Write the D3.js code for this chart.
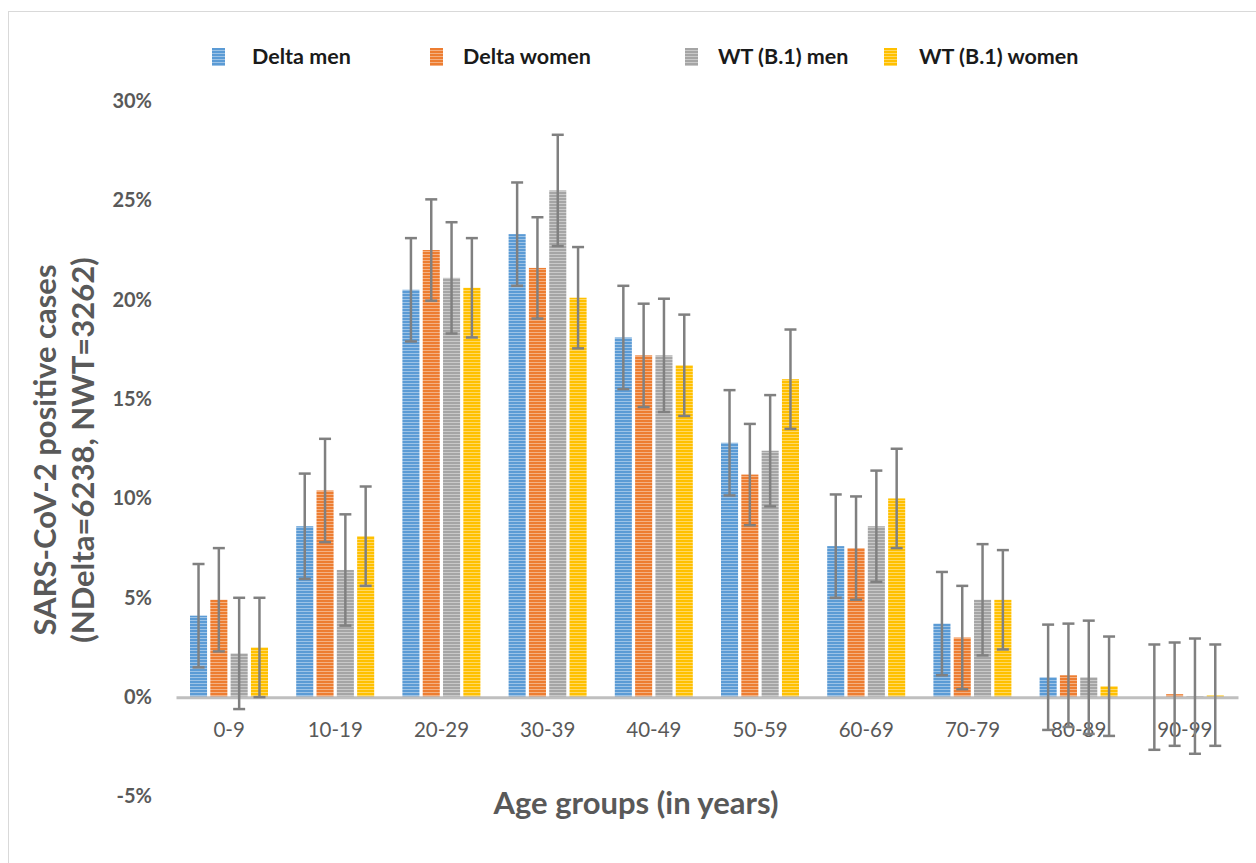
<!DOCTYPE html>
<html>
<head>
<meta charset="utf-8">
<script src="https://cdn.jsdelivr.net/npm/d3@7"></script>
<style>
  html, body { margin: 0; padding: 0; background: #fff; }
  svg { display: block; }
</style>
</head>
<body>
<svg id="chart" width="1256" height="863"></svg>
<script>
const categories = ["0-9","10-19","20-29","30-39","40-49","50-59","60-69","70-79","80-89","90-99"];
const seriesNames = ["Delta men","Delta women","WT (B.1) men","WT (B.1) women"];
const deltaMen   = [4.1, 8.6, 20.5, 23.3, 18.1, 12.8, 7.6, 3.7, 1.0, 0.0];
const deltaWomen = [4.9, 10.4, 22.5, 21.6, 17.2, 11.2, 7.5, 3.0, 1.1, 0.15];
const wtMen      = [2.2, 6.4, 21.1, 25.5, 17.2, 12.4, 8.6, 4.9, 1.0, 0.05];
const wtWomen    = [2.5, 8.1, 20.6, 20.1, 16.7, 16.0, 10.0, 4.9, 0.55, 0.1];
const deltaMenErr   = [2.6, 2.65, 2.6, 2.6, 2.6, 2.65, 2.6, 2.6, 2.65, 2.65];
const deltaWomenErr = [2.6, 2.6, 2.55, 2.55, 2.6, 2.55, 2.6, 2.6, 2.6, 2.6];
const wtMenErr      = [2.8, 2.8, 2.8, 2.8, 2.85, 2.8, 2.8, 2.8, 2.85, 2.9];
const wtWomenErr    = [2.5, 2.5, 2.5, 2.55, 2.55, 2.5, 2.5, 2.5, 2.5, 2.55];
const yTicks = [-5, 0, 5, 10, 15, 20, 25, 30];
const colors = ["#5B9BD5", "#ED7D31", "#A5A5A5", "#FFC000"];

const values = [deltaMen, deltaWomen, wtMen, wtWomen];
const errors = [deltaMenErr, deltaWomenErr, wtMenErr, wtWomenErr];

const svg = d3.select("#chart");
const font = "Lato, 'Open Sans', sans-serif";

// frame
svg.append("rect").attr("x", 8.5).attr("y", 11.5).attr("width", 1300).attr("height", 900)
  .attr("fill", "none").attr("stroke", "#d9d9d9").attr("stroke-width", 1);

// stripe patterns
const defs = svg.append("defs");
colors.forEach((c, i) => {
  const p = defs.append("pattern").attr("id", "stripe" + i)
    .attr("patternUnits", "userSpaceOnUse").attr("width", 4).attr("height", 3);
  p.append("rect").attr("width", 4).attr("height", 3).attr("fill", c);
  p.append("rect").attr("y", 2).attr("width", 4).attr("height", 1).attr("fill", "#ffffff").attr("opacity", 0.4);
});

const y = d3.scaleLinear().domain([-5, 30]).range([796.5, 101]);
const x0 = d3.scaleBand().domain(categories).range([176, 1238]).padding(0);
const x1 = d3.scaleBand().domain(d3.range(4)).range([14, 92]).paddingInner(0.16).paddingOuter(0);

// y tick labels
const yAxis = d3.axisLeft(y).tickValues(yTicks).tickFormat(d => d + "%").tickSize(0).tickPadding(0);
const gy = svg.append("g").attr("transform", "translate(152,0)").call(yAxis);
gy.select(".domain").remove();
gy.selectAll("text").attr("font-family", font).attr("font-size", 20).attr("font-weight", "bold")
  .attr("fill", "#595959");

// bars
categories.forEach((cat, ci) => {
  const g = svg.append("g").attr("transform", `translate(${x0(cat)},0)`);
  values.forEach((arr, si) => {
    const v = arr[ci];
    g.append("rect")
      .attr("x", x1(si)).attr("width", x1.bandwidth())
      .attr("y", y(Math.max(v, 0))).attr("height", Math.abs(y(v) - y(0)))
      .attr("fill", `url(#stripe${si})`);
  });
});

// axis line
const xAxis = d3.axisBottom(x0).tickSize(0).tickPadding(0);
const gx = svg.append("g").attr("transform", `translate(0,${y(0)})`).call(xAxis);
gx.select(".domain").attr("stroke", "#BFBFBF").attr("stroke-width", 3);
gx.selectAll("text").attr("font-family", font).attr("font-size", 20.5)
  .attr("fill", "#595959").attr("dy", "40px");

// error bars
categories.forEach((cat, ci) => {
  const g = svg.append("g").attr("transform", `translate(${x0(cat)},0)`);
  values.forEach((arr, si) => {
    const v = arr[ci], e = errors[si][ci];
    const cx = x1(si) + x1.bandwidth() / 2;
    const lines = [
      [cx, y(v + e), cx, y(v - e)],
      [cx - 6, y(v + e), cx + 6, y(v + e)],
      [cx - 6, y(v - e), cx + 6, y(v - e)]
    ];
    lines.forEach(l => {
      g.append("line").attr("x1", l[0]).attr("y1", l[1]).attr("x2", l[2]).attr("y2", l[3])
        .attr("stroke", "#808080").attr("stroke-width", 2.5);
    });
  });
});

// axis titles
svg.append("text").attr("x", 636).attr("y", 814).attr("text-anchor", "middle")
  .attr("font-family", font).attr("font-size", 31).attr("font-weight", "bold")
  .attr("fill", "#595959").text("Age groups (in years)");

const yt = svg.append("g").attr("transform", "translate(0,450) rotate(-90)");
yt.append("text").attr("x", 0).attr("y", 56).attr("text-anchor", "middle")
  .attr("font-family", font).attr("font-size", 31).attr("font-weight", "bold")
  .attr("fill", "#595959").text("SARS-CoV-2 positive cases");
yt.append("text").attr("x", 0).attr("y", 94).attr("text-anchor", "middle")
  .attr("font-family", font).attr("font-size", 31).attr("font-weight", "bold")
  .attr("fill", "#595959").text("(NDelta=6238, NWT=3262)");

// legend
const legendX = [212, 430, 685, 884];
const legendTextX = [252, 463, 718, 919];
seriesNames.forEach((name, i) => {
  svg.append("rect").attr("x", legendX[i]).attr("y", 48).attr("width", 13).attr("height", 18)
    .attr("fill", `url(#stripe${i})`);
  svg.append("text").attr("x", legendTextX[i]).attr("y", 64)
    .attr("font-family", font).attr("font-size", 21.5).attr("font-weight", "bold")
    .attr("fill", "#1a1a1a").text(name);
});
</script>
</body>
</html>
